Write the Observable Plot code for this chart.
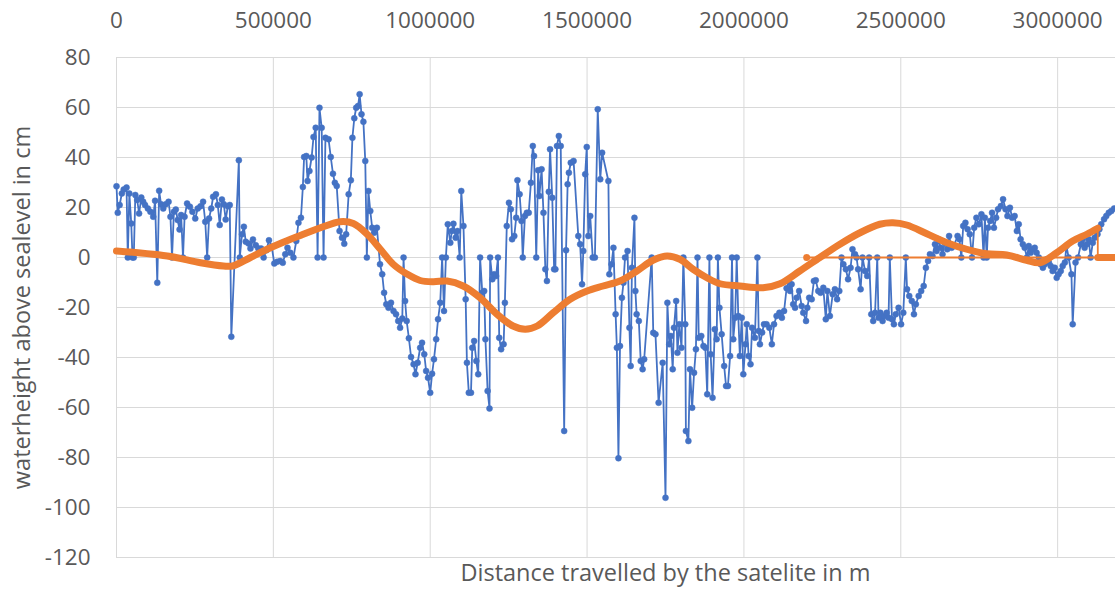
<!DOCTYPE html>
<html>
<head>
<meta charset="utf-8">
<script src="https://cdn.jsdelivr.net/npm/d3@7"></script>
<script src="https://cdn.jsdelivr.net/npm/@observablehq/plot@0.6"></script>
<style>
  body { margin: 0; background: #fff; }
  svg { overflow: hidden; }
</style>
</head>
<body>
<div id="chart"></div>
<script>
// Axis ticks
const xTicks = [0, 500000, 1000000, 1500000, 2000000, 2500000, 3000000];
const yTicks = [-120, -100, -80, -60, -40, -20, 0, 20, 40, 60, 80];

// Measured water height along the ground track: [distance in m, height in cm]
const measured = [
  [0,28.5],[4000,17.9],[10000,21],[17000,25.6],[23000,27.2],[32000,28],[36000,0],[41000,25.6],[47000,13.6],[51000,0],[55000,0],[60000,25],[66000,23],[72000,17.6],[79000,24],[85000,22.3],[91000,21],[100000,19.6],[108000,18.3],[117000,16.3],[123000,22.7],[130000,-10.1],[136000,26.7],[142000,21.3],[149000,19.6],[157000,21.3],[166000,22.3],[172000,16.3],[177000,0],[183000,18.3],[189000,19.2],[195000,15],[201000,11.2],[206000,17],[212000,0],[217000,16.3],[225000,21.6],[234000,20.3],[242000,18.3],[251000,15.6],[259000,19.6],[268000,20.5],[276000,22.3],[283000,14.3],[289000,0],[295000,15.6],[302000,19.6],[308000,24.3],[317000,25.3],[323000,21],[329000,13],[336000,23.2],[342000,21.3],[348000,15.2],[355000,20.5],[361000,21],[366000,-31.7],[390000,38.9],[393000,0],[400000,9.3],[406000,12.3],[412000,6.3],[421000,5.6],[427000,3.6],[435000,7.2],[444000,4.9],[452000,3.6],[461000,3.6],[469000,0],[478000,2.9],[486000,6.9],[495000,4.3],[503000,-2.4],[512000,-1.7],
  [522000,-1.4],[530000,-2.1],[538000,1.3],[545000,3.9],[554000,1.9],[564000,0],[573000,6.6],[580000,13.9],[588000,15.9],[594000,28.2],[598000,40.2],[605000,40.6],[609000,30.6],[615000,34.6],[622000,40],[628000,48.2],[635000,51.9],[641000,0],[647000,59.9],[654000,51.9],[660000,0],[666000,47.9],[676000,47.3],[683000,40.2],[690000,33.5],[696000,29.9],[702000,28.6],[711000,10.6],[719000,7.9],[726000,5.5],[732000,9.3],[740000,25.3],[747000,30.9],[752000,47.9],[758000,55.7],[764000,59.9],[770000,60.6],[775000,65.3],[781000,57.3],[787000,54.3],[793000,38.6],[798000,0],[803000,26.6],[809000,18.6],[815000,11.9],[821000,9.9],[830000,11.9],[840000,-2.7],[847000,-6.7],[853000,-14.1],[860000,-18.7],[867000,-20.1],[875000,-18.1],[883000,-21.4],[891000,-22.7],[898000,-25.4],[904000,-28.1],[911000,-24.4],[915000,0],[920000,-17.4],[925000,-25.4],[932000,-32.3],[939000,-39.8],[947000,-42.7],[953000,-46.7],[960000,-42.1],[968000,-36.1],[974000,-34.1],[981000,-38.7],[987000,-45.4],[993000,-48.1],[1000000,-54.1],[1006000,-46.5],[1012000,-40.7],[1019000,-32.7],[1025000,-24.7],[1032000,-18.1],[1038000,0],[1044000,-21.4],[1050000,0],[1056000,13.3],
  [1064000,5.9],[1069000,10.6],[1074000,13.5],[1081000,7.9],[1087000,10.6],[1094000,0],[1099000,26.6],[1106000,12.6],[1113000,-16.7],[1117000,-42.1],[1123000,-54.1],[1130000,-54.1],[1134000,-36.1],[1140000,-33.4],[1147000,-41.4],[1153000,-46.7],[1159000,0],[1166000,-14.1],[1172000,-13.4],[1176000,-32.7],[1183000,-53.4],[1189000,-60.4],[1191000,0],[1198000,-8.7],[1204000,-6.7],[1210000,-7.4],[1216000,0],[1220000,-32.1],[1226000,-36.7],[1234000,-34.7],[1238000,-18.1],[1244000,12.6],[1251000,21.9],[1257000,19.3],[1261000,7.3],[1268000,8.6],[1274000,15.9],[1278000,30.9],[1285000,25.3],[1291000,14.6],[1295000,0],[1302000,16.6],[1308000,17.9],[1314000,17.9],[1321000,29.9],[1327000,44.6],[1331000,40.6],[1338000,0],[1344000,34.9],[1348000,24.6],[1355000,35.3],[1361000,17.9],[1367000,-4.7],[1372000,-9.4],[1378000,26.3],[1382000,43.3],[1389000,23.9],[1395000,-4.7],[1399000,-4.7],[1404000,44.6],[1410000,48.6],[1416000,44.6],[1427000,-69.4],[1433000,2.9],[1438000,29.3],[1442000,33.9],[1448000,37.9],[1457000,38.6],[1472000,8.6],[1478000,5.3],[1484000,-10.7],[1488000,2.6],[1494000,33.3],[1499000,44.2],[1504000,8.6],[1510000,16.6],[1518000,0],[1525000,0],[1534000,59.3],[1542000,31.3],[1548000,41.9],[1568000,30.6],[1571000,-6.7],[1578000,-2.7],[1584000,3.9],[1591000,-22.7],[1595000,-36.1],[1600000,-80.3],
  [1605000,-35.4],[1611000,-16.1],[1616000,-10.1],[1621000,0],[1629000,2.6],[1635000,-28.1],[1639000,-43.4],[1643000,-4.1],[1651000,15.9],[1654000,-13.4],[1658000,-22.7],[1665000,-25.4],[1671000,-41.4],[1677000,-44.7],[1682000,-40.7],[1706000,0],[1711000,-30.1],[1718000,-30.7],[1728000,-58.1],[1741000,-42.1],[1750000,-96.1],[1756000,-18.1],[1762000,-34.7],[1767000,-31.4],[1773000,-44.7],[1777000,-28.1],[1784000,-17.4],[1788000,-38.1],[1794000,-26.7],[1801000,-36.1],[1807000,0],[1813000,-26.7],[1815000,-69.4],[1823000,-73.4],[1828000,-44.7],[1835000,-60.1],[1841000,-46.1],[1847000,-36.7],[1852000,0],[1856000,-32.1],[1864000,-31.4],[1871000,-35.4],[1877000,-36.1],[1883000,-54.7],[1890000,0],[1894000,-38.7],[1900000,-56.1],[1907000,-28.7],[1913000,-32.7],[1917000,0],[1922000,-20.1],[1929000,-30.7],[1937000,-43.4],[1943000,-51.4],[1949000,-51.4],[1956000,-39.4],[1962000,0],[1966000,-32.7],[1972000,-24.1],[1977000,0],[1982000,-23.4],[1987000,-39.4],[1993000,-24.1],[1998000,-46.7],[2005000,-34.7],[2009000,-26.7],[2015000,-39.4],[2021000,-42.7],[2026000,-28.1],[2035000,-32.1],[2043000,0],[2047000,-29.4],[2051000,-34.7],[2058000,-30],[2064000,-26.7],[2072000,-26.7],[2081000,-28.1],[2089000,-34.7],[2096000,-26.7],[2104000,-23.4],[2113000,-22.1],[2121000,-24.1],[2128000,-21.4],[2136000,-12.3],[2143000,-9.4],
  [2147000,-13.4],[2152000,-10.7],[2157000,-18.7],[2163000,-20.1],[2168000,-16.1],[2176000,-13.4],[2184000,-19.4],[2189000,-22.1],[2198000,-25.4],[2202000,-20.1],[2208000,-16.1],[2216000,-16.7],[2223000,-9.4],[2229000,-9.1],[2237000,-13.4],[2244000,-14.1],[2253000,-12.1],[2261000,-24.7],[2266000,-13.4],[2274000,-23.4],[2283000,-14.7],[2290000,-12.7],[2297000,-16.7],[2304000,-13.4],[2311000,0],[2317000,-2.7],[2325000,-4.7],[2332000,-8.7],[2340000,-4.1],[2346000,3.3],[2354000,1.3],[2359000,0],[2364000,-4.7],[2372000,-12.7],[2378000,0],[2386000,-5.4],[2393000,-7.4],[2399000,0],[2406000,-22.7],[2412000,-25.4],[2418000,-22.1],[2425000,0],[2429000,-24.1],[2435000,-22.1],[2442000,-25.4],[2448000,-23.4],[2455000,-22.1],[2461000,-24.1],[2465000,0],[2472000,-24.7],[2478000,-26.7],[2484000,-22.7],[2493000,-20.1],[2501000,-26.7],[2508000,-22.1],[2516000,0],[2520000,-12.7],[2527000,-15.4],[2535000,-17.4],[2542000,-22.7],[2548000,-18.7],[2557000,-15.4],[2565000,-13.4],[2573000,-11.4],[2580000,-4.1],[2587000,-1.4],[2593000,1.3],[2601000,0.6],[2609000,5.3],[2614000,2.6],[2620000,7.3],[2627000,3.9],[2633000,1.3],[2640000,5.9],[2648000,3.3],[2654000,8.6],[2662000,3.9],[2669000,4.6],
  [2681000,8.6],[2687000,7.3],[2693000,0],[2699000,12.6],[2706000,13.9],[2713000,11.3],[2720000,9.3],[2727000,0],[2734000,11.9],[2741000,15.9],[2749000,13.3],[2757000,17.3],[2764000,0],[2768000,15.9],[2774000,0],[2778000,11.9],[2785000,14.6],[2791000,17.9],[2797000,11.9],[2804000,15.9],[2810000,19.3],[2819000,20.6],[2826000,23.3],[2834000,19.3],[2840000,16.6],[2848000,19.9],[2855000,15.9],[2863000,16.6],[2870000,10.6],[2876000,13.3],[2882000,7.3],[2889000,5.3],[2895000,3.9],[2902000,0],[2908000,4.6],[2914000,1.9],[2921000,3.3],[2927000,3.9],[2933000,1.9],[2940000,0],[2946000,-2.7],[2953000,-4.1],[2959000,-2.7],[2965000,-0.7],[2972000,-2],[2978000,-3.4],[2984000,-5.4],[2991000,-4.1],[2997000,-8.1],[3003000,-6.7],[3010000,-5.4],[3016000,-3.4],[3023000,-2],[3028000,4.6],[3035000,0],[3044000,-6.7],[3048000,-26.7],[3057000,-2],[3065000,0],[3074000,5.3],[3080000,7.3],[3086000,3.9],[3093000,5.3],[3099000,7.3],[3105000,0],[3112000,5.9],[3118000,7.9],[3127000,9.3],[3133000,11.3],[3139000,13.3],[3148000,15.3],[3155000,16.6],[3163000,17.9],[3171000,18.6],[3180000,19.6]
];

// Modelled water height (smooth reference curve)
const modelDistance = [0,162000,268000,341000,370000,427000,475000,522000,586000,650000,713000,755000,799000,841000,882000,927000,968000,1010000,1054000,1105000,1159000,1213000,1264000,1303000,1341000,1392000,1446000,1500000,1551000,1605000,1659000,1710000,1755000,1796000,1838000,1882000,1924000,1987000,2061000,2115000,2178000,2242000,2306000,2370000,2433000,2475000,2519000,2583000,2647000,2710000,2774000,2838000,2901000,2943000,2997000,3048000,3093000,3128000];
const modelHeight = [2.6,0.6,-2.1,-3.4,-3.4,0,3,5.6,8.8,11.9,14.3,13.6,9.3,3.3,-2.7,-6.7,-9.2,-9.7,-9.4,-11.4,-16.1,-22.7,-27.4,-28.7,-27.4,-22.1,-16.7,-13.4,-11.4,-9.4,-5.4,-1.1,0.6,-0.7,-4.7,-8.1,-10.5,-11.4,-12.1,-10.5,-5.4,0,5.3,9.9,13.3,13.9,13,9.5,5.9,3.3,1.5,1,-1.1,-2.1,1.9,6.6,9.3,11.7];

// Remainder of the model series after the curve: drop to zero, zero run, wrap back
const tailDistance = [3128000, 3128000, 3500000, 2200000];
const tailHeight = [11.7, 0, 0, 0];

const blue = "#4472C4";
const orange = "#ED7D31";

const points = measured.map(([x, y]) => ({x, y}));
const model = modelDistance.map((x, i) => ({x, y: modelHeight[i]}));
const tail = tailDistance.map((x, i) => ({x, y: tailHeight[i]}));
const zeroRun = tail.slice(1, 3);
const wrapPoint = tail.slice(3);

const chart = Plot.plot({
  width: 1115,
  height: 590,
  marginLeft: 116,
  marginRight: -99,
  marginTop: 57,
  marginBottom: 33,
  style: {fontFamily: "'Open Sans', sans-serif", fontSize: "22.5px", color: "#595959", background: "#fff"},
  x: {domain: [0, 3500000]},
  y: {domain: [-120, 80]},
  marks: [
    Plot.gridX(xTicks, {stroke: "#d9d9d9", strokeOpacity: 1}),
    Plot.gridY(yTicks, {stroke: "#d9d9d9", strokeOpacity: 1}),
    Plot.axisX(xTicks, {anchor: "top", tickSize: 0, tickPadding: 30, label: null, tickFormat: d => String(d)}),
    Plot.axisY(yTicks, {anchor: "left", tickSize: 0, tickPadding: 26, label: null, tickFormat: d => String(d)}),
    Plot.line(points, {x: "x", y: "y", stroke: blue, strokeWidth: 1.8}),
    Plot.dot(points, {x: "x", y: "y", r: 3, fill: blue, stroke: blue, strokeWidth: 0.5}),
    Plot.line(tail, {x: "x", y: "y", stroke: orange, strokeWidth: 1.8}),
    Plot.dot(wrapPoint, {x: "x", y: "y", r: 3.5, fill: orange}),
    Plot.line(zeroRun, {x: "x", y: "y", stroke: orange, strokeWidth: 7, strokeLinecap: "round"}),
    Plot.line(model, {x: "x", y: "y", stroke: orange, strokeWidth: 7, strokeLinecap: "round", strokeLinejoin: "round", curve: "catmull-rom"}),
    Plot.text(["Distance travelled by the satelite in m"], {frameAnchor: "bottom", dy: 23, textAnchor: "middle", fill: "#595959", fontSize: 23.5}),
    Plot.text(["waterheight above sealevel in cm"], {frameAnchor: "left", dx: -94, textAnchor: "middle", rotate: -90, fill: "#595959", fontSize: 23.5})
  ]
});
document.getElementById("chart").appendChild(chart);
</script>
</body>
</html>
